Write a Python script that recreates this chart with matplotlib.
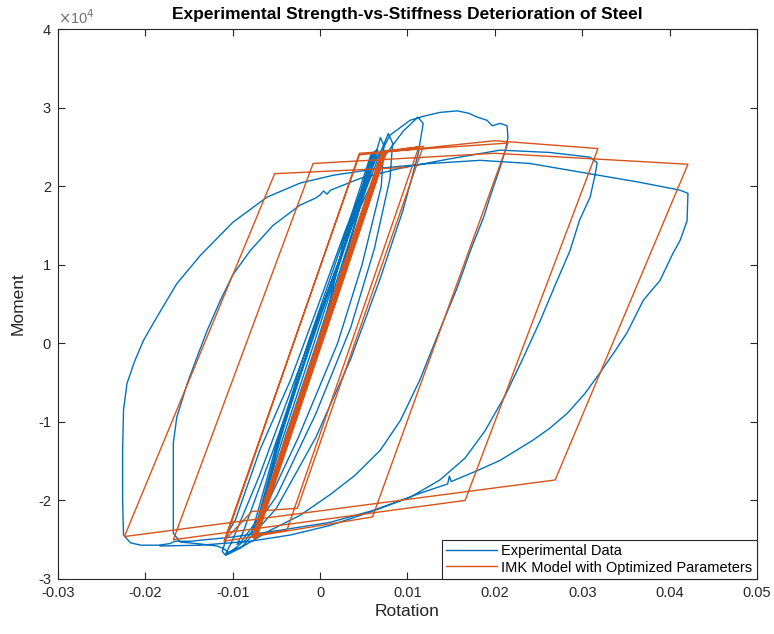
import numpy as np
import matplotlib
matplotlib.use("Agg")
import matplotlib.pyplot as plt

plt.rcParams['font.family'] = ['Liberation Sans', 'DejaVu Sans']

# ---------------- Experimental data (blue) ----------------
# elastic cycles (thick band)
exp_band_rot = [0.0, 0.0026, 0.0062, 0.0066, 0.0032, -0.0004, -0.0040, -0.0072,
                -0.0074, -0.0045, -0.0012, 0.0028, 0.0060, 0.0064, 0.0030, -0.0007,
                -0.0043, -0.0076, -0.0078, -0.0048, -0.0014, 0.0024, 0.0058, 0.0063,
                0.0034, -0.0001, -0.0037, -0.0070, -0.0075, -0.0046, -0.0010]
exp_band_mom = [0, 12500, 24400, 24600, 12500, 0, -12000, -24000,
                -23800, -12000, 0, 12500, 24200, 24500, 12800, 0,
                -12200, -24300, -24100, -12100, 0, 12300, 24000, 24300,
                12700, 0, -11800, -23700, -23900, -11900, 0]
# narrow spikes
exp_spk_rot = [0.0030, 0.0055, 0.0066, 0.0069, 0.0073, 0.0070, 0.0048, 0.0020, -0.0025,
               -0.0065, -0.0090, -0.0095, -0.0088, -0.0055, -0.0020, 0.0010, 0.0045,
               0.0068, 0.0078, 0.0083, 0.0080, 0.0062, 0.0035, -0.0005, -0.0050,
               -0.0085, -0.0102, -0.0108, -0.0100, -0.0070, -0.0035, 0.0000, 0.0040,
               0.0075, 0.0095, 0.0112, 0.0118, 0.0112, 0.0095, 0.0068, 0.0035,
               -0.0005, -0.0050, -0.0090, -0.0108, -0.0112, -0.0105]
exp_spk_mom = [13000, 21500, 25000, 26200, 25200, 20000, 10000, 0, -12000,
               -21500, -25200, -25600, -24000, -14000, -3000, 7000, 17500,
               24000, 26700, 25500, 21000, 12000, 2000, -9000, -19500,
               -25000, -26500, -26800, -25000, -17000, -6500, 4000, 16000,
               24000, 27000, 28800, 28000, 24000, 17000, 8000, -2000,
               -12000, -21000, -26000, -27000, -26500, -24000]
# cycle with hump (to +0.021)
exp_c3_rot = [-0.0097, -0.0069, -0.0034, 0.0000, 0.0029, 0.0052, 0.0066, 0.0072,
              0.0080, 0.0092, 0.0103, 0.0118, 0.0137, 0.0157, 0.0170, 0.0180,
              0.0191, 0.0197, 0.0206, 0.0214, 0.0215, 0.0212, 0.0206, 0.0195,
              0.0187, 0.0172, 0.0157, 0.0137, 0.0114, 0.0092, 0.0069, 0.0040,
              0.0011, -0.0023, -0.0057, -0.0086, -0.0105, -0.0111, -0.0118, -0.0140,
              -0.0160, -0.0168]
exp_c3_mom = [-22500, -13600, -4700, 5500, 14400, 20700, 23900, 24800,
              26500, 27500, 28400, 28900, 29400, 29600, 29300, 28800,
              28400, 27700, 28000, 27700, 26200, 24600, 22400, 18800,
              16000, 11800, 7100, 1700, -4700, -9800, -13600, -16800,
              -19300, -21900, -23800, -25700, -26600, -26100, -25800, -25500,
              -25300, -24200]
# cycle to +0.032 / -0.017
exp_c4_rot = [-0.0168, -0.0168, -0.0164, -0.0152, -0.0141, -0.0129, -0.0114, -0.0100,
              -0.0080, -0.0054, -0.0023, -0.0005, 0.0000, 0.0004, 0.0008, 0.0012,
              0.0046, 0.0092, 0.0149, 0.0206, 0.0263, 0.0309, 0.0317, 0.0315,
              0.0309, 0.0297, 0.0286, 0.0269, 0.0252, 0.0231, 0.0212, 0.0189,
              0.0166, 0.0137, 0.0103, 0.0060, 0.0011, -0.0046, -0.0103, -0.0149,
              -0.0166, -0.0172, -0.0185, -0.0205]
exp_c4_mom = [-23800, -12700, -9400, -5100, -1800, 1700, 5500, 8700,
              11800, 15000, 17600, 18500, 18900, 19400, 19000, 19500,
              21000, 22300, 23500, 24600, 24300, 23700, 23000, 21600,
              18600, 15700, 11800, 7400, 2900, -2200, -6600, -11100,
              -14600, -17400, -19600, -21300, -22800, -23800, -24700, -25200,
              -25200, -25500, -25700, -25700]
# largest cycle (+0.042 / -0.0225)
exp_c5_rot = [-0.0217, -0.0225, -0.0226, -0.0226, -0.0225, -0.0221, -0.0212, -0.0202,
              -0.0187, -0.0164, -0.0137, -0.0100, -0.0061, -0.0023, 0.0015, 0.0069,
              0.0126, 0.0183, 0.0240, 0.0298, 0.0366, 0.0412, 0.0421, 0.0420,
              0.0412, 0.0404, 0.0389, 0.0370, 0.0351, 0.0338, 0.0320, 0.0303,
              0.0283, 0.0263, 0.0244, 0.0206, 0.0180, 0.0150, 0.0148, 0.0146, 0.0114,
              0.0057, 0.0011, -0.0034, -0.0080, -0.0137, -0.0183]
exp_c5_mom = [-25400, -24400, -20000, -13600, -8500, -5100, -2200, 400,
              3300, 7600, 11200, 15400, 18600, 20400, 21400, 22300,
              22900, 23300, 22900, 21800, 20500, 19500, 19100, 15600,
              13100, 11500, 8000, 5500, 1300, -900, -3800, -6400,
              -8900, -10800, -12300, -14900, -16200, -17600, -16900, -17900, -19100,
              -21500, -23200, -24400, -25200, -25700, -25800]

# ---------------- IMK model (orange) ----------------
imk_rot = [0.0, 0.0074, -0.0075, 0.0076, -0.0073, 0.0073, -0.0077, 0.0075,
           -0.0074, 0.0072, -0.0076, 0.0074,
           0.0113, -0.0038, -0.0077, 0.0070, 0.0118, -0.0026, -0.0078, -0.0108,
           0.0045, 0.0215, 0.0060, -0.0110, 0.0045, 0.0200, 0.0318, 0.0166,
           -0.0168, -0.0008, 0.0200, 0.0421, 0.0269, -0.0224, -0.0052, 0.0100]
imk_mom = [0, 24500, -24800, 24400, -24900, 24500, -24700, 24300,
           -24900, 24400, -24800, 24500,
           25000, -23800, -24400, 24300, 25100, -21000, -21400, -24900,
           24200, 25500, -22100, -25200, 24000, 25800, 24800, -20000,
           -25000, 22900, 24200, 22800, -17400, -24600, 21600, 22400]

BLUE = '#0072BD'
ORANGE = '#D95319'

exp_rot = np.concatenate([exp_band_rot, exp_spk_rot, exp_c3_rot, exp_c4_rot, exp_c5_rot])
exp_mom = np.concatenate([exp_band_mom, exp_spk_mom, exp_c3_mom, exp_c4_mom, exp_c5_mom])

fig = plt.figure(figsize=(7.74, 6.34), dpi=100)
ax = fig.add_axes([0.0749, 0.0868, 0.9031, 0.8672])

ax.plot(exp_rot, exp_mom, color=BLUE, lw=1.0, label='Experimental Data')
ax.plot(imk_rot, imk_mom, color=ORANGE, lw=1.0, label='IMK Model with Optimized Parameters')

ax.set_xlim(-0.03, 0.05)
ax.set_ylim(-30000, 40000)
xt = [-0.03, -0.02, -0.01, 0, 0.01, 0.02, 0.03, 0.04, 0.05]
ax.set_xticks(xt)
ax.set_xticklabels(['-0.03', '-0.02', '-0.01', '0', '0.01', '0.02', '0.03', '0.04', '0.05'])
yt = [-30000, -20000, -10000, 0, 10000, 20000, 30000, 40000]
ax.set_yticks(yt)
ax.set_yticklabels(['-3', '-2', '-1', '0', '1', '2', '3', '4'])

tc = '#262626'
ax.tick_params(direction='in', top=True, right=True, length=5, width=0.8,
               labelsize=10.5, colors=tc, pad=5)
for s in ax.spines.values():
    s.set_color(tc)
    s.set_linewidth(0.8)

ax.text(0.0, 1.004, r'$\times$10$^{4}$', transform=ax.transAxes, fontsize=10.5,
        color='#707070', ha='left', va='bottom')
ax.set_xlabel('Rotation', fontsize=12.5, color=tc, labelpad=3)
ax.set_ylabel('Moment', fontsize=12.5, color=tc, labelpad=9)
ax.set_title('Experimental Strength-vs-Stiffness Deterioration of Steel',
             fontsize=12.5, fontweight='bold', color='black', pad=7)

leg = ax.legend(loc='lower right', borderaxespad=0, fancybox=False,
                edgecolor=tc, fontsize=10.5, handlelength=3.5, framealpha=1,
                borderpad=0.3, labelspacing=0.15, handletextpad=0.3)
leg.get_frame().set_linewidth(0.8)

fig.savefig('out.png', dpi=100)
